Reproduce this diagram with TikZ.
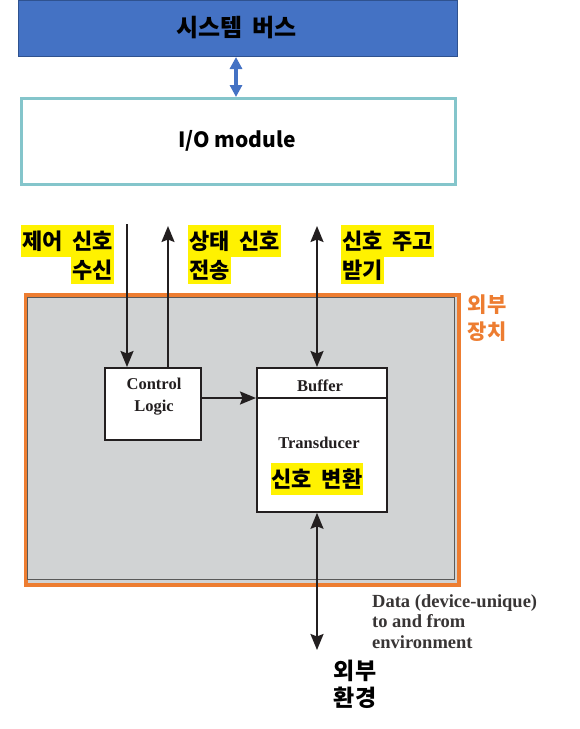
\documentclass[tikz,border=0pt]{standalone}
\usepackage{fontspec}
\setmainfont{Liberation Serif}
\newfontfamily\kr[WordSpace=1.9]{Noto Sans CJK KR}
\newfontfamily\krn{Noto Sans CJK SC}
\usetikzlibrary{arrows.meta}
\definecolor{busblue}{HTML}{4472C4}
\definecolor{busedge}{HTML}{2F528F}
\definecolor{ioedge}{HTML}{84C5CB}
\definecolor{orng}{HTML}{ED7D31}
\definecolor{devgray}{HTML}{D1D3D4}
\definecolor{ink}{HTML}{231F20}
\definecolor{datagray}{HTML}{383535}
\begin{document}
\begin{tikzpicture}[x=1pt,y=-1pt,
  rbox/.style={draw, rectangle, inner sep=0pt, anchor=north west},
  hl/.style={fill=yellow, inner xsep=1pt, inner ysep=0pt, text=black,
             font=\kr\bfseries\fontsize{22}{22}\selectfont},
  serifb/.style={text=ink, font=\bfseries\fontsize{16.5}{22}\selectfont, align=center},
  tipk/.tip={Stealth[length=16pt,width=13pt,inset=2.5pt]},
  arr/.style={-tipk, line width=2pt, draw=ink},
  darr/.style={tipk-tipk, line width=2pt, draw=ink},
  barr/.style={{Triangle[length=12pt,width=12pt]}-{Triangle[length=12pt,width=12pt]}, line width=3.5pt, draw=busblue}]
\useasboundingbox (0,0) rectangle (579,729);

% system bus
\node[rbox, fill=busblue, draw=busedge, line width=1pt, minimum width=439pt, minimum height=56pt] (bus) at (18,0) {};
\node[font=\kr\bfseries\fontsize{24}{24}\selectfont, text=black] (bustext) at (236.5,28) {시스템 버스};

% I/O module
\node[rbox, draw=ioedge, line width=2.5pt, minimum width=434pt, minimum height=86pt] (io) at (20,97) {};
\node[font=\krn\bfseries\fontsize{21}{21}\selectfont, text=black] (iotext) at (237,141) {I/O module};

\coordinate (b0) at (236,0);
\draw[barr] (b0 |- bus.south) -- (b0 |- io.north);

% external device
\node[rbox, fill=devgray, draw=orng, line width=4pt, minimum width=433pt, minimum height=290pt] (ext) at (24,293) {};
\draw[draw=gray!70!black, line width=0.8pt] (27,297) rectangle (454,579);
\node[font=\kr\bfseries\fontsize{21}{27}\selectfont, text=orng, align=center] (exttext) at (487,318) {외부\\장치};

% control logic
\node[rbox, fill=white, draw=ink, line width=1.8pt, minimum width=96pt, minimum height=72pt] (ctrl) at (104,367) {};
\node[serifb] (ctrltext) at (154,397) {Control\\Logic};

% buffer / transducer
\node[rbox, fill=white, draw=ink, line width=1.8pt, minimum width=130pt, minimum height=144pt] (buf) at (256,367) {};
\path (buf.north west) ++(0,31) coordinate (dl);
\path (buf.north east) ++(0,31) coordinate (dr);
\draw[draw=ink, line width=1.8pt] (dl) -- (dr);
\node[serifb] (buftext) at (320,386) {Buffer};
\node[serifb] (trtext) at (319,443) {Transducer};
\node[hl, minimum height=32pt] (conv) at (317,479) {신호 변환};

% signal labels
\node[hl, anchor=north east, minimum height=32pt] (l1a) at (114,225) {제어 신호};
\node[hl, anchor=north east, minimum height=27pt] (l1b) at (114,257) {수신};
\node[hl, anchor=north west, minimum height=32pt] (l2a) at (188,225) {상태 신호};
\node[hl, anchor=north west, minimum height=27pt] (l2b) at (188,257) {전송};
\node[hl, anchor=north west, minimum height=32pt] (l3a) at (341,225) {신호 주고};
\node[hl, anchor=north west, minimum height=27pt] (l3b) at (341,257) {받기};

% connectors
\coordinate (c1) at (127,224);
\coordinate (c2) at (168,226);
\coordinate (c3) at (317,226);
\coordinate (c4) at (317,650);
\draw[arr] (c1) -- (c1 |- ctrl.north);
\draw[arr] (c2 |- ctrl.north) -- (c2);
\draw[darr] (c3) -- (c3 |- buf.north);
\draw[arr] (ctrl.east |- dl) -- (dl);
\draw[darr] (c4 |- buf.south) -- (c4);

% data text
\node[anchor=north west, inner sep=0pt, align=left, text=datagray,
      font=\bfseries\fontsize{18.5}{20.5}\selectfont] (datatext) at (372,594)
  {Data (device-unique)\\to and from\\environment};

% environment
\node[font=\kr\bfseries\fontsize{23}{27}\selectfont, text=black, align=center] (env) at (355,684) {외부\\환경};
\end{tikzpicture}
\end{document}
